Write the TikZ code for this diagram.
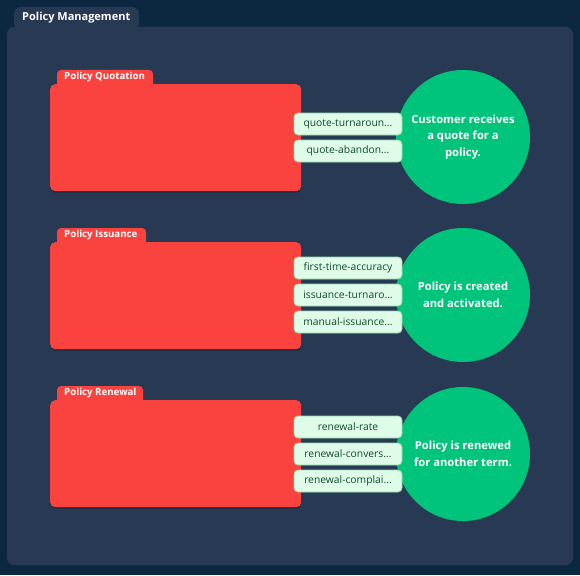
\documentclass[tikz,border=0pt]{standalone}
\usepackage{fontspec}
\setmainfont{Open Sans}
\usetikzlibrary{positioning,shadows}
\definecolor{bgc}{HTML}{0C2740}
\definecolor{panelc}{HTML}{283A53}
\definecolor{redc}{HTML}{FA433F}
\definecolor{greenc}{HTML}{00C47B}
\definecolor{pillfill}{HTML}{DFFCE9}
\definecolor{pillline}{HTML}{8ED9A8}
\definecolor{pilltext}{HTML}{0F4A27}
\tikzset{
  redbox/.style={fill=redc, rounded corners=5pt, minimum width=251pt, minimum height=107pt, inner sep=0pt, anchor=north west,
    drop shadow={shadow xshift=0pt, shadow yshift=-1.5pt, opacity=0.25, fill=black}},
  tabtext/.style={text=white, font=\fontsize{9.7}{11}\selectfont\bfseries, inner sep=0pt, anchor=west},
  pill/.style={fill=pillfill, draw=pillline, line width=0.8pt, rounded corners=4pt, minimum width=108pt, minimum height=22pt, inner sep=0pt,
    text=pilltext, font=\fontsize{10.3}{12}\selectfont},
  goal/.style={circle, fill=greenc, minimum size=134pt, inner sep=0pt, text=white, align=center,
    font=\fontsize{11.2}{16.5}\selectfont\bfseries},
}
\begin{document}
\begin{tikzpicture}[x=1pt,y=-1pt]
\useasboundingbox (0,0) rectangle (580,575);
\fill[bgc] (0,0) rectangle (580,575);
% outer tab and panel
\fill[panelc, rounded corners=7pt] (14,30) -- (14,7) -- (139,7) -- (139,30) -- cycle;
\fill[panelc, rounded corners=7pt] (7,27) rectangle (573,565);
\node[text=white, font=\fontsize{11}{13}\selectfont\bfseries, inner sep=0pt, anchor=west] (maintab) at (22,18) {Policy Management};

% row 1
\fill[redc, rounded corners=4pt] (57,90) -- (57,70) -- (153,70) -- (153,90) -- cycle;
\node[tabtext] (t1) at (64,77) {Policy Quotation};
\node[redbox] (r1) at (50,84) {};
\node[goal] (g1) at (463,137) {Customer receives\\a quote for a\\policy.};
\node[pill] (p11) at (348,124) {quote-turnaroun...};
\node[pill] (p12) at (348,151) {quote-abandon...};

% row 2
\fill[redc, rounded corners=4pt] (57,248) -- (57,228) -- (146,228) -- (146,248) -- cycle;
\node[tabtext] (t2) at (64,235) {Policy Issuance};
\node[redbox] (r2) at (50,242) {};
\node[goal] (g2) at (463,295) {Policy is created\\and activated.};
\node[pill] (p21) at (348,268) {first-time-accuracy};
\node[pill] (p22) at (348,295) {issuance-turnaro...};
\node[pill] (p23) at (348,322) {manual-issuance...};

% row 3
\fill[redc, rounded corners=4pt] (57,406) -- (57,386) -- (143,386) -- (143,406) -- cycle;
\node[tabtext] (t3) at (64,393) {Policy Renewal};
\node[redbox] (r3) at (50,400) {};
\node[goal] (g3) at (463,454) {Policy is renewed\\for another term.};
\node[pill] (p31) at (348,427) {renewal-rate};
\node[pill] (p32) at (348,454) {renewal-convers...};
\node[pill] (p33) at (348,481) {renewal-complai...};
\end{tikzpicture}
\end{document}
